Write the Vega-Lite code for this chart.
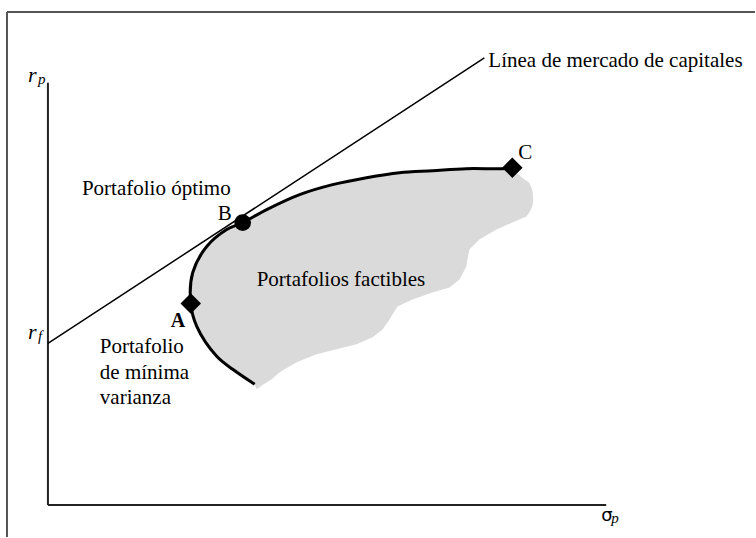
{
  "$schema": "https://vega.github.io/schema/vega-lite/v6.json",
  "width": 756,
  "height": 538,
  "autosize": {"type": "fit", "contains": "padding"},
  "padding": 0,
  "background": "white",
  "config": {"view": {"stroke": null}, "text": {"font": "Liberation Serif, Times New Roman, serif"}},
  "encoding": {
    "x": {"field": "x", "type": "quantitative", "scale": {"domain": [-4.8, 70.8], "nice": false, "zero": false}, "axis": null},
    "y": {"field": "y", "type": "quantitative", "scale": {"domain": [-3.2, 50.6], "nice": false, "zero": false}, "axis": null}
  },
  "layer": [
    {
      "data": {"values": [
        {"y": 33.8, "x": 46.2, "x2": 46.5},
        {"y": 33.7, "x": 43.7, "x2": 46.6},
        {"y": 33.5, "x": 38.5, "x2": 46.8},
        {"y": 33.3, "x": 35.2, "x2": 46.9},
        {"y": 32.8, "x": 31.9, "x2": 47.5},
        {"y": 32.3, "x": 29.2, "x2": 48.2},
        {"y": 31.6, "x": 26.8, "x2": 48.5},
        {"y": 30.6, "x": 24.1, "x2": 48.6},
        {"y": 29.9, "x": 22.6, "x2": 48.5},
        {"y": 29.3, "x": 21.2, "x2": 48.2},
        {"y": 28.9, "x": 20.5, "x2": 47.9},
        {"y": 28.3, "x": 19.5, "x2": 46.5},
        {"y": 27.6, "x": 17.9, "x2": 44.9},
        {"y": 26.6, "x": 16.7, "x2": 43.2},
        {"y": 25.6, "x": 15.7, "x2": 42.2},
        {"y": 24.6, "x": 15.1, "x2": 42.0},
        {"y": 23.9, "x": 14.8, "x2": 41.9},
        {"y": 22.6, "x": 14.4, "x2": 41.2},
        {"y": 21.8, "x": 14.3, "x2": 40.2},
        {"y": 21.3, "x": 14.2, "x2": 38.5},
        {"y": 20.6, "x": 14.2, "x2": 36.5},
        {"y": 19.9, "x": 14.3, "x2": 35.0},
        {"y": 19.1, "x": 14.5, "x2": 34.5},
        {"y": 18.6, "x": 14.6, "x2": 34.2},
        {"y": 17.6, "x": 15.1, "x2": 33.5},
        {"y": 16.8, "x": 15.6, "x2": 32.5},
        {"y": 16.1, "x": 16.1, "x2": 30.9},
        {"y": 15.6, "x": 16.4, "x2": 28.9},
        {"y": 15.1, "x": 16.8, "x2": 26.9},
        {"y": 14.3, "x": 17.6, "x2": 24.9},
        {"y": 13.6, "x": 18.5, "x2": 23.7},
        {"y": 13.3, "x": 18.8, "x2": 23.2},
        {"y": 12.6, "x": 19.9, "x2": 22.4},
        {"y": 12.1, "x": 20.7, "x2": 21.6},
        {"y": 11.6, "x": 20.9, "x2": 20.9}
      ]},
      "mark": {"type": "area", "orient": "horizontal", "color": "#dadada", "interpolate": "linear"},
      "encoding": {"x2": {"field": "x2"}}
    },
    {
      "data": {"values": [
        {"x": -4.1, "y": -3.2, "x2": -4.1, "y2": 49.4},
        {"x": -4.1, "y": 49.4, "x2": 70.8, "y2": 49.4}
      ]},
      "mark": {"type": "rule", "color": "#555555", "strokeWidth": 2},
      "encoding": {"x2": {"field": "x2"}, "y2": {"field": "y2"}}
    },
    {
      "data": {"values": [
        {"x": 0, "y": 0, "x2": 0, "y2": 42.3},
        {"x": 0, "y": 0, "x2": 55.9, "y2": 0}
      ]},
      "mark": {"type": "rule", "color": "#222222", "strokeWidth": 2},
      "encoding": {"x2": {"field": "x2"}, "y2": {"field": "y2"}}
    },
    {
      "data": {"values": [
        {"x": 0, "y": 16.2, "x2": 43.7, "y2": 44.8}
      ]},
      "mark": {"type": "rule", "color": "#000000", "strokeWidth": 1.5},
      "encoding": {"x2": {"field": "x2"}, "y2": {"field": "y2"}}
    },
    {
      "data": {"values": [
        {"i": 1, "x": 20.7, "y": 12.1},
        {"i": 2, "x": 18.5, "y": 13.6},
        {"i": 3, "x": 16.9, "y": 14.9},
        {"i": 4, "x": 14.9, "y": 17.9},
        {"i": 5, "x": 14.3, "y": 20.2},
        {"i": 6, "x": 14.5, "y": 23.3},
        {"i": 7, "x": 15.9, "y": 25.9},
        {"i": 8, "x": 17.9, "y": 27.6},
        {"i": 9, "x": 19.5, "y": 28.3},
        {"i": 10, "x": 21.9, "y": 29.6},
        {"i": 11, "x": 25.2, "y": 31.1},
        {"i": 12, "x": 28.5, "y": 32.1},
        {"i": 13, "x": 31.9, "y": 32.8},
        {"i": 14, "x": 35.2, "y": 33.3},
        {"i": 15, "x": 38.5, "y": 33.5},
        {"i": 16, "x": 41.9, "y": 33.7},
        {"i": 17, "x": 45.5, "y": 33.7},
        {"i": 18, "x": 46.5, "y": 33.8}
      ]},
      "mark": {"type": "line", "color": "#000000", "strokeWidth": 3, "interpolate": "catmull-rom"},
      "encoding": {"order": {"field": "i", "type": "quantitative"}}
    },
    {
      "data": {"values": [
        {"x": 14.3, "y": 20.2, "p": "A"},
        {"x": 46.5, "y": 33.8, "p": "C"}
      ]},
      "mark": {"type": "point", "shape": "diamond", "filled": true, "color": "#000000", "size": 420, "opacity": 1}
    },
    {
      "data": {"values": [
        {"x": 19.5, "y": 28.3, "p": "B"}
      ]},
      "mark": {"type": "point", "shape": "circle", "filled": true, "color": "#000000", "size": 280, "opacity": 1}
    },
    {
      "data": {"values": [
        {"x": 44.1, "y": 43.9, "t": "Línea de mercado de capitales"},
        {"x": 3.4, "y": 31.1, "t": "Portafolio óptimo"},
        {"x": 47.1, "y": 34.7, "t": "C"},
        {"x": 20.9, "y": 21.9, "t": "Portafolios factibles"},
        {"x": 5.2, "y": 15.2, "t": "Portafolio"},
        {"x": 5.2, "y": 12.6, "t": "de mínima"},
        {"x": 5.2, "y": 10.1, "t": "varianza"}
      ]},
      "mark": {"type": "text", "font": "Liberation Serif, Times New Roman, serif", "fontSize": 21, "align": "left", "baseline": "alphabetic", "color": "#000000"},
      "encoding": {"text": {"field": "t"}}
    },
    {
      "data": {"values": [
        {"x": 18.4, "y": 28.6, "t": "B"}
      ]},
      "mark": {"type": "text", "font": "Liberation Serif, Times New Roman, serif", "fontSize": 21, "align": "right", "baseline": "alphabetic", "color": "#000000"},
      "encoding": {"text": {"field": "t"}}
    },
    {
      "data": {"values": [
        {"x": 12.3, "y": 17.8, "t": "A"}
      ]},
      "mark": {"type": "text", "font": "Liberation Serif, Times New Roman, serif", "fontSize": 20, "fontWeight": "bold", "align": "left", "baseline": "alphabetic", "color": "#000000"},
      "encoding": {"text": {"field": "t"}}
    },
    {
      "data": {"values": [
        {"x": -2.0, "y": 42.4, "t": "r"},
        {"x": -2.0, "y": 16.6, "t": "r"}
      ]},
      "mark": {"type": "text", "font": "Liberation Serif, Times New Roman, serif", "fontSize": 22, "fontStyle": "italic", "align": "left", "baseline": "alphabetic", "color": "#000000"},
      "encoding": {"text": {"field": "t"}}
    },
    {
      "data": {"values": [
        {"x": -1.0, "y": 42.2, "t": "p"},
        {"x": -1.0, "y": 16.4, "t": "f"},
        {"x": 56.4, "y": -1.8, "t": "p"}
      ]},
      "mark": {"type": "text", "font": "Liberation Serif, Times New Roman, serif", "fontSize": 15, "fontStyle": "italic", "align": "left", "baseline": "alphabetic", "color": "#000000"},
      "encoding": {"text": {"field": "t"}}
    },
    {
      "data": {"values": [
        {"x": 55.4, "y": -1.6, "t": "σ"}
      ]},
      "mark": {"type": "text", "font": "DejaVu Sans", "fontSize": 18, "align": "left", "baseline": "alphabetic", "color": "#000000"},
      "encoding": {"text": {"field": "t"}}
    }
  ]
}
